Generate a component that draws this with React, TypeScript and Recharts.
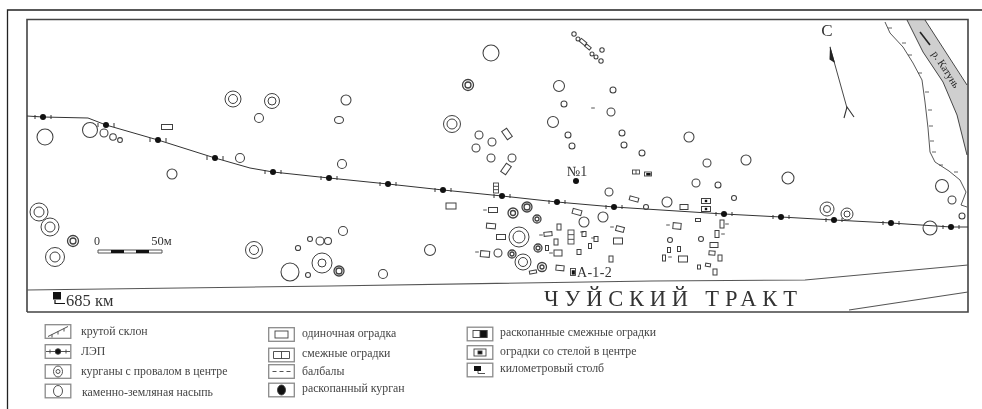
import React from "react";
import { ComposedChart, Scatter, Area, XAxis, YAxis } from "recharts";

const SERIF = "'Liberation Serif', serif";
const INK = "#404040";

// Map survey readings: [easting, southing, radius...] in map units
const plainMounds = [
  [45,137,8],[90,130,7.5],[104,133,4],[113,137,3.3],[120,140,2.4],[172,174,5],[240,158,4.5],[259,118,4.5],
  [320,241,4],[310,239,2.5],[298,248,2.6],[290,272,9],[308,275,2.5],[328,241,3.5],[346,100,5],[342,164,4.5],
  [343,231,4.5],[430,250,5.5],[383,274,4.5],[491,53,8],[559,86,5.5],[564,104,3],[553,122,5.5],[568,135,3],
  [572,146,3],[613,90,3],[611,112,4],[622,133,3],[624,145,3],[642,153,3],[479,135,4],[492,142,4],[476,148,4],
  [491,158,4],[512,158,4],[609,192,4],[584,222,5],[603,217,5],[498,253,4],[646,207,2.5],[689,137,5],[707,163,4],
  [746,160,5],[788,178,6],[696,183,4],[718,185,3],[734,198,2.5],[667,202,5],[942,186,6.5],[952,200,4],[962,216,3],
  [930,228,7],[701,239,2.5],[670,240,2.5],[574,34,2.2],[578,39,2],[592,54,2],[596,57,2],[601,61,2.2],[602,50,2.2],
];
const ovalMounds = [[339,120,4.5,3.5]];
const ringMounds = [
  [39,212,9,5],[50,227,9,5],[73,241,5.5,3],[55,257,9.5,5],[233,99,8,4.5],[272,101,7.5,4],[254,250,8.5,4.5],
  [322,263,10,4],[339,271,5,3],[468,85,5.5,3],[452,124,8.5,5],[513,213,5,2.5],[527,207,5,3],[537,219,4,2],
  [519,237,10,6],[523,262,8,4.5],[538,248,4,2],[512,254,4,2],[542,267,4.5,2],[827,209,7,3.5],[847,214,6,3],
];
const singleEnclosures = [
  [167,127,11,5,0],[507,134,6,10,-35],[506,169,6,10,35],[451,206,10,6,0],[493,210,9,5,0],[491,226,9,5,5],
  [501,237,9,5,0],[485,254,9,6,5],[548,234,8,4,-5],[559,227,4,6,0],[556,242,4,6,0],[547,248,3,5,0],[558,253,8,6,0],
  [577,212,9,5,15],[579,252,4,5,0],[560,268,8,5,5],[533,272,7,3,-10],[584,234,4,5,0],[590,246,3,5,0],[596,239,4,5,0],
  [611,259,4,6,0],[618,241,9,6,0],[620,229,8,5,15],[634,199,9,4,15],[684,207,8,5,0],[698,220,5,3,0],[677,226,8,6,5],
  [722,224,4,8,0],[717,234,4,7,0],[714,245,8,5,0],[712,253,6,4,5],[720,258,4,6,0],[683,259,9,6,0],[669,250,3,5,0],
  [679,249,3,5,0],[664,258,3,6,0],[699,267,3,4,0],[708,265,5,3,10],[715,272,4,6,0],[583,42,7,3.5,40],[588,47,6,3,40],
];
const pairedEnclosures = [[496,188,5,10,0],[571,237,6,14,0],[636,172,7,4,0]];
const excavatedPairs = [[648,174,7,4,5],[573,272,5,7,0]];
const steleEnclosures = [[706,201,9,5],[706,209,9,5]];
const dashes = [
  [485,210],[477,252],[541,235],[551,253],[582,232],[593,238],[612,227],[593,108],[668,225],[727,224],[723,234],[670,257],
];
const excavatedMounds = [[576,181]];
const pylons = [
  [43,117],[106,125],[158,140],[215,158],[273,172],[329,178],[388,184],[443,190],[502,196],[557,202],[614,207],
  [724,214],[781,217],[834,220],[891,223],[951,227],
];
const slopeTicks = [[888,28],[902,43],[908,55],[918,73],[925,92],[928,110],[929,126],[930,141],[932,152],[939,165],[954,172]];

const powerLine = [[27,116],[43,117],[88,118],[106,125],[158,140],[215,158],[250,168],[273,172],[329,178],[388,184],[443,190],[502,196],[557,202],[614,207],[724,214],[781,217],[834,220],[891,223],[951,227],[968,227]];
const slope = [[885,22],[890,33],[903,47],[913,63],[922,80],[925,102],[928,128],[930,152],[935,162],[949,171],[960,180],[966,192],[963,200],[961,205],[967,207]];
const roadUpper = [[27,290],[330,286],[652,281],[805,280],[968,265]];
const roadLower = [[849,310],[968,292]];
const outerFrame = [[7.5,409],[7.5,10],[982,10]];
const innerFrame = [[27,312],[27,19.5],[968,19.5],[968,312],[27,312]];
const riverLeft = [[907,20],[923,52],[943,82],[957,115],[967,155]];
const riverRight = [[925,20],[967,85]];
const riverBand = [
  { x: 907, band: [20, 20] }, { x: 923, band: [20, 52] }, { x: 925, band: [20, 55] }, { x: 943, band: [48, 82] },
  { x: 957, band: [70, 115] }, { x: 967, band: [85, 155] },
];
const riverFlow = [[920,32],[930,45]];
const northShaft = [[830,47],[847,108]];
const northTail = [[844,118],[847,107],[854,117]];
const scaleLine = [[98,250],[162,250],[162,253],[98,253],[98,250]];
const scaleBlack = [[111,124],[136,149]];
const kmPost = [[55,300],[55,303.5],[65,303.5]];

const mapLabels = [
  { x: 97, y: 245, text: "0", size: 12, anchor: "middle" },
  { x: 161.5, y: 245, text: "50м", size: 12.5, anchor: "middle" },
  { x: 827, y: 36, text: "С", size: 17, anchor: "middle" },
  { x: 567, y: 176, text: "№1", size: 14, anchor: "start" },
  { x: 577, y: 277, text: "А-1-2", size: 14, anchor: "start", spacing: 0.3 },
  { x: 66, y: 306, text: "685 км", size: 16.5, anchor: "start" },
  { x: 544, y: 305.5, text: "ЧУЙСКИЙ ТРАКТ", size: 22.5, anchor: "start", spacing: 5.8 },
];
const legendTexts = [
  { x: 81, y: 335, text: "крутой склон" },
  { x: 81, y: 355, text: "ЛЭП" },
  { x: 81, y: 375, text: "курганы с провалом в центре" },
  { x: 82, y: 396, text: "каменно-земляная насыпь" },
  { x: 302, y: 337, text: "одиночная оградка" },
  { x: 302, y: 357, text: "смежные оградки" },
  { x: 302, y: 375, text: "балбалы" },
  { x: 302, y: 392, text: "раскопанный курган" },
  { x: 500, y: 336, text: "раскопанные смежные оградки" },
  { x: 500, y: 355, text: "оградки со стелой в центре" },
  { x: 500, y: 372, text: "километровый столб" },
];
const legendBoxes = [
  { x: 58, y: 331.5, kind: "slope" }, { x: 58, y: 351.5, kind: "line" }, { x: 58, y: 371.5, kind: "ring" }, { x: 58, y: 391, kind: "mound" },
  { x: 281.5, y: 334.5, kind: "single" }, { x: 281.5, y: 355, kind: "paired" }, { x: 281.5, y: 371.5, kind: "dashes" }, { x: 281.5, y: 390, kind: "dug" },
  { x: 480, y: 334, kind: "dugPair" }, { x: 480, y: 352.5, kind: "stele" }, { x: 480, y: 370, kind: "post" },
];

const pts = (rows: number[][]) => rows.map(([x, y, a, b, c]) => ({ x, y, a, b, c }));
const stroke = { fill: "none", stroke: INK };

const Plain = ({ cx, cy, payload }: any) => <circle cx={cx} cy={cy} r={payload.a} {...stroke} strokeWidth={1.05} />;
const Oval = ({ cx, cy, payload }: any) => <ellipse cx={cx} cy={cy} rx={payload.a} ry={payload.b} {...stroke} strokeWidth={1.05} />;
const Ring = ({ cx, cy, payload }: any) => (
  <g {...stroke} strokeWidth={payload.a < 6 ? 1.3 : 1}>
    <circle cx={cx} cy={cy} r={payload.a} />
    <circle cx={cx} cy={cy} r={payload.b} />
  </g>
);
const Enclosure = ({ cx, cy, payload }: any) => (
  <rect x={cx - payload.a / 2} y={cy - payload.b / 2} width={payload.a} height={payload.b}
    transform={`rotate(${payload.c || 0} ${cx} ${cy})`} {...stroke} strokeWidth={1} />
);
const Paired = ({ cx, cy, payload }: any) => {
  const { a: w, b: h } = payload;
  return (
    <g {...stroke} strokeWidth={0.9}>
      <rect x={cx - w / 2} y={cy - h / 2} width={w} height={h} />
      {h > w ? <path d={`M${cx - w / 2} ${cy - h / 6}H${cx + w / 2}M${cx - w / 2} ${cy + h / 6}H${cx + w / 2}`} /> : <path d={`M${cx} ${cy - h / 2}V${cy + h / 2}`} />}
    </g>
  );
};
const Dug = ({ cx, cy, payload }: any) => {
  const { a: w, b: h } = payload;
  return (
    <g>
      <rect x={cx - w / 2} y={cy - h / 2} width={w} height={h} {...stroke} strokeWidth={0.9} />
      <rect x={cx - w / 4} y={cy - h / 4} width={w / 1.6} height={h / 1.6} fill="#111" />
    </g>
  );
};
const Stele = ({ cx, cy, payload }: any) => (
  <g>
    <rect x={cx - payload.a / 2} y={cy - payload.b / 2} width={payload.a} height={payload.b} {...stroke} strokeWidth={1} />
    <rect x={cx - 1.2} y={cy - 1.2} width={2.4} height={2.4} fill="#111" />
  </g>
);
const Dash = ({ cx, cy }: any) => <line x1={cx - 1.8} x2={cx + 1.8} y1={cy} y2={cy} stroke={INK} strokeWidth={0.9} />;
const Dot = ({ cx, cy }: any) => <circle cx={cx} cy={cy} r={3} fill="#111" />;
const Pylon = ({ cx, cy }: any) => (
  <g>
    <circle cx={cx} cy={cy} r={3} fill="#111" />
    <path d={`M${cx - 8} ${cy - 2}v4M${cx + 8} ${cy - 2}v4`} stroke="#333" strokeWidth={1} />
  </g>
);
const SlopeTick = ({ cx, cy }: any) => <line x1={cx} x2={cx + 4} y1={cy} y2={cy} stroke={INK} strokeWidth={0.8} />;
const None = () => null;

const MapLabel = ({ cx, cy, payload }: any) => (
  <text x={cx} y={cy} fontFamily={SERIF} fontSize={payload.size} fill="#333" textAnchor={payload.anchor}
    letterSpacing={payload.spacing || 0}>{payload.text}</text>
);
const LegendText = ({ cx, cy, payload }: any) => (
  <text x={cx} y={cy} fontFamily={SERIF} fontSize={11.8} fill="#444">{payload.text}</text>
);
const LegendBox = ({ cx, cy, payload }: any) => {
  const k = payload.kind;
  return (
    <g>
      <rect x={cx - 12.8} y={cy - 6.8} width={25.6} height={13.6} fill="#fff" stroke="#8a8a8a" strokeWidth={1.3} />
      <g {...stroke} strokeWidth={0.9}>
        {k === "slope" && <path d={`M${cx - 10} ${cy + 5}L${cx + 10} ${cy - 5}M${cx - 6} ${cy + 3}v3M${cx} ${cy}v3M${cx + 6} ${cy - 3}v3`} />}
        {k === "line" && <path d={`M${cx - 12} ${cy}H${cx + 12}M${cx - 8} ${cy - 2}v4M${cx + 8} ${cy - 2}v4`} />}
        {k === "line" && <circle cx={cx} cy={cy} r={2.8} fill="#111" />}
        {k === "ring" && <ellipse cx={cx} cy={cy} rx={4.5} ry={5.5} />}
        {k === "ring" && <circle cx={cx} cy={cy} r={2} />}
        {k === "mound" && <ellipse cx={cx} cy={cy} rx={4.5} ry={5.5} />}
        {k === "single" && <rect x={cx - 6.5} y={cy - 3.5} width={13} height={7} />}
        {k === "paired" && <path d={`M${cx - 8} ${cy - 3.5}h16v7h-16zM${cx} ${cy - 3.5}v7`} />}
        {k === "dashes" && <path d={`M${cx - 9} ${cy}h4M${cx - 2} ${cy}h4M${cx + 5} ${cy}h4`} />}
        {k === "dug" && <ellipse cx={cx} cy={cy} rx={4} ry={5} fill="#111" />}
        {k === "dugPair" && <rect x={cx - 7} y={cy - 3.5} width={14} height={7} />}
        {k === "dugPair" && <rect x={cx} y={cy - 3.5} width={7} height={7} fill="#111" />}
        {k === "stele" && <rect x={cx - 6} y={cy - 3.5} width={12} height={7} />}
        {k === "stele" && <rect x={cx - 2} y={cy - 1.5} width={4} height={3} fill="#111" />}
        {k === "post" && <rect x={cx - 6} y={cy - 4} width={7} height={5} fill="#111" stroke="none" />}
        {k === "post" && <path d={`M${cx - 2} ${cy + 1}v2.5h7`} />}
      </g>
    </g>
  );
};

const strokeLine = (rows: number[][], color: string, width: number, key: string) => (
  <Scatter key={key} data={pts(rows)} line={{ stroke: color, strokeWidth: width, fill: "none" }} lineType="joint" shape={None} isAnimationActive={false} />
);

export default function App() {
  return (
    <div style={{ position: "absolute", left: 0, top: 0, width: 982, height: 409, filter: "blur(0.45px)" }}>
      <ComposedChart width={982} height={409} margin={{ top: 0, right: 0, bottom: 0, left: 0 }}>
        <XAxis type="number" dataKey="x" domain={[0, 982]} hide allowDataOverflow />
        <YAxis type="number" dataKey="y" domain={[0, 409]} reversed hide allowDataOverflow />
        <Area data={riverBand} dataKey="band" stroke="none" fill="#cfcfcf" fillOpacity={1} dot={false} activeDot={false} isAnimationActive={false} />
        {strokeLine(outerFrame, "#222", 1.3, "outer")}
        {strokeLine(innerFrame, "#444", 1.6, "inner")}
        {strokeLine(roadUpper, "#555", 1.1, "road1")}
        {strokeLine(roadLower, "#555", 1.1, "road2")}
        {strokeLine(powerLine, "#333", 1, "power")}
        {strokeLine(slope, "#444", 0.9, "slope")}
        {strokeLine(riverLeft, "#333", 0.9, "rl")}
        {strokeLine(riverRight, "#333", 0.9, "rr")}
        {strokeLine(riverFlow, "#222", 1.6, "flow")}
        {strokeLine(northShaft, "#333", 0.9, "north")}
        {strokeLine(northTail, "#333", 1.1, "tail")}
        {strokeLine(scaleLine, "#555", 1, "scale")}
        {scaleBlack.map(([a, b]) => strokeLine([[a, 251.5], [b, 251.5]], "#111", 3, `bar${a}`))}
        {strokeLine(kmPost, "#111", 1.2, "km")}
        <Scatter data={pts(slopeTicks)} shape={SlopeTick} isAnimationActive={false} />
        <Scatter data={pts(plainMounds)} shape={Plain} isAnimationActive={false} />
        <Scatter data={pts(ovalMounds)} shape={Oval} isAnimationActive={false} />
        <Scatter data={pts(ringMounds)} shape={Ring} isAnimationActive={false} />
        <Scatter data={pts(singleEnclosures)} shape={Enclosure} isAnimationActive={false} />
        <Scatter data={pts(pairedEnclosures)} shape={Paired} isAnimationActive={false} />
        <Scatter data={pts(excavatedPairs)} shape={Dug} isAnimationActive={false} />
        <Scatter data={pts(steleEnclosures)} shape={Stele} isAnimationActive={false} />
        <Scatter data={pts(dashes)} shape={Dash} isAnimationActive={false} />
        <Scatter data={pts(excavatedMounds)} shape={Dot} isAnimationActive={false} />
        <Scatter data={pts(pylons)} shape={Pylon} isAnimationActive={false} />
        <Scatter data={[{ x: 57, y: 296 }]} shape={({ cx, cy }: any) => <rect x={cx - 4} y={cy - 4} width={8} height={7.5} fill="#111" />} isAnimationActive={false} />
        <Scatter data={[{ x: 830, y: 46 }]} shape={({ cx, cy }: any) => <path d={`M${cx} ${cy}l5 17l-5.5 -3.5z`} fill="#222" />} isAnimationActive={false} />
        <Scatter data={[{ x: 945, y: 70, text: "р. Катунь" }]} shape={({ cx, cy, payload }: any) => (
          <text x={cx} y={cy} transform={`rotate(57 ${cx} ${cy})`} textAnchor="middle" dominantBaseline="middle" fontFamily={SERIF} fontSize={10.5} fill="#222">{payload.text}</text>
        )} isAnimationActive={false} />
        <Scatter data={mapLabels} shape={MapLabel} isAnimationActive={false} />
        <Scatter data={legendBoxes} shape={LegendBox} isAnimationActive={false} />
        <Scatter data={legendTexts} shape={LegendText} isAnimationActive={false} />
      </ComposedChart>
    </div>
  );
}
